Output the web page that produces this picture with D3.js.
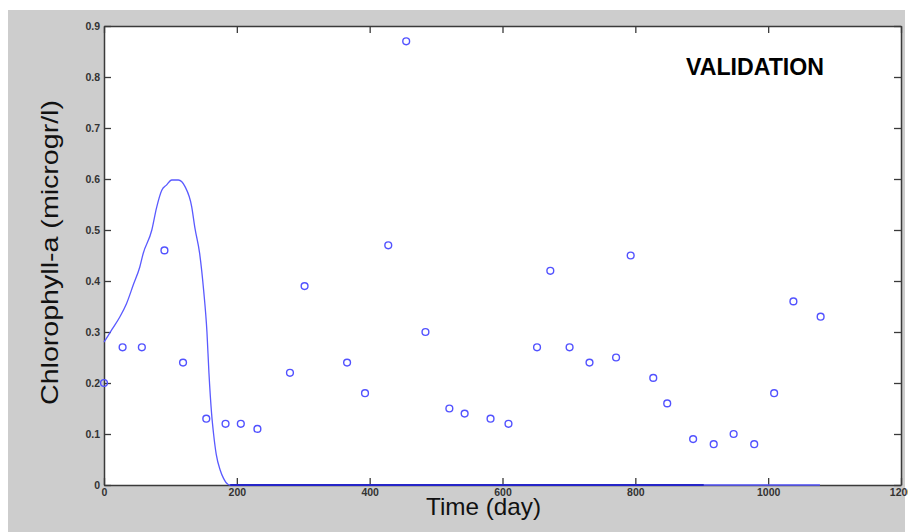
<!DOCTYPE html>
<html>
<head>
<meta charset="utf-8">
<script src="https://cdn.jsdelivr.net/npm/d3@7"></script>
<style>
  html, body { margin: 0; padding: 0; background: #ffffff; }
  svg { display: block; }
</style>
</head>
<body>
<svg id="chart" width="908" height="532"></svg>
<script>
// Observed chlorophyll-a samples (day, microgr/l)
const obsDays = [0, 28, 57, 91, 119, 154, 183, 206, 231, 280, 302, 366, 393, 428, 455, 484,
                 520, 543, 582, 609, 652, 672, 701, 731, 771, 793, 827, 848, 887, 918, 948, 979,
                 1009, 1038, 1079];
const obsValues = [0.20, 0.27, 0.27, 0.46, 0.24, 0.13, 0.12, 0.12, 0.11, 0.22, 0.39, 0.24, 0.18, 0.47, 0.87, 0.30,
                   0.15, 0.14, 0.13, 0.12, 0.27, 0.42, 0.27, 0.24, 0.25, 0.45, 0.21, 0.16, 0.09, 0.08, 0.10, 0.08,
                   0.18, 0.36, 0.33];

// Simulated chlorophyll-a curve
const modelDays = [0, 12, 24, 34, 44, 54, 59, 72, 79, 87, 94, 102, 112, 122, 132, 137, 144, 150, 155,
                   158, 162, 165, 169, 175, 180, 187, 190, 400, 600, 800, 1000, 1078];
const modelValues = [0.28, 0.305, 0.33, 0.356, 0.392, 0.428, 0.454, 0.50, 0.543, 0.578, 0.588, 0.598, 0.598,
                     0.585, 0.546, 0.503, 0.454, 0.382, 0.30, 0.22, 0.14, 0.10, 0.06, 0.029, 0.013, 0.001, 0,
                     0, 0, 0, 0, 0];

// Second simulated run, flat at zero over its span
const baseRunDays = [190, 903];
const baseRunValues = [0, 0];

const xTicks = [0, 200, 400, 600, 800, 1000, 1200];
const yTicks = [0, 0.1, 0.2, 0.3, 0.4, 0.5, 0.6, 0.7, 0.8, 0.9];

const chartTitle = "VALIDATION";
const xLabel = "Time (day)";
const yLabel = "Chlorophyll-a (microgr/l)";

const svg = d3.select("#chart");
const W = 908, H = 532;
const plot = { left: 104, top: 26, right: 901, bottom: 485 };

// figure background
svg.append("rect")
  .attr("x", 8).attr("y", 10)
  .attr("width", 897).attr("height", H - 10)
  .attr("fill", "#cdcdcd");

// axes area
svg.append("rect")
  .attr("x", plot.left).attr("y", plot.top)
  .attr("width", plot.right - plot.left).attr("height", plot.bottom - plot.top)
  .attr("fill", "#ffffff");

const x = d3.scaleLinear().domain([0, 1200]).range([plot.left, plot.right]);
const y = d3.scaleLinear().domain([0, 0.9]).range([plot.bottom, plot.top]);

const tickFmt = d => d === 0 ? "0" : d3.format(".1f")(d);

function styleAxis(g) {
  g.selectAll("path.domain").attr("stroke", "#3a3a3a").attr("stroke-width", 1.5);
  g.selectAll(".tick line").attr("stroke", "#3a3a3a").attr("stroke-width", 1.3);
  g.selectAll(".tick text")
    .attr("fill", "#333333")
    .attr("font-family", "'Liberation Sans', Arial, sans-serif")
    .attr("font-weight", "bold")
    .attr("font-size", "10.5px");
}

// bottom axis with labels
svg.append("g")
  .attr("transform", `translate(0,${plot.bottom})`)
  .call(d3.axisBottom(x).tickValues(xTicks).tickSizeInner(-7).tickSizeOuter(0).tickPadding(4).tickFormat(d3.format("d")))
  .call(styleAxis);

// top axis (ticks only)
svg.append("g")
  .attr("transform", `translate(0,${plot.top})`)
  .call(d3.axisTop(x).tickValues(xTicks).tickSizeInner(-7).tickSizeOuter(0).tickFormat(""))
  .call(styleAxis);

// left axis with labels
svg.append("g")
  .attr("transform", `translate(${plot.left},0)`)
  .call(d3.axisLeft(y).tickValues(yTicks).tickSizeInner(-7).tickSizeOuter(0).tickPadding(4).tickFormat(tickFmt))
  .call(styleAxis);

// right axis (ticks only)
svg.append("g")
  .attr("transform", `translate(${plot.right},0)`)
  .call(d3.axisRight(y).tickValues(yTicks).tickSizeInner(-7).tickSizeOuter(0).tickFormat(""))
  .call(styleAxis);

// simulated curve
const line = d3.line()
  .x(d => x(d[0]))
  .y(d => y(d[1]))
  .curve(d3.curveMonotoneX);

svg.append("path")
  .datum(modelDays.map((d, i) => [d, modelValues[i]]))
  .attr("d", line)
  .attr("fill", "none")
  .attr("stroke", "#5a5aff")
  .attr("stroke-width", 1.3);

svg.append("path")
  .datum(baseRunDays.map((d, i) => [d, baseRunValues[i]]))
  .attr("d", d3.line().x(d => x(d[0])).y(d => y(d[1])))
  .attr("fill", "none")
  .attr("stroke", "#2626c8")
  .attr("stroke-width", 2);

// observed samples
svg.append("g")
  .selectAll("circle")
  .data(obsDays.map((d, i) => [d, obsValues[i]]))
  .join("circle")
  .attr("cx", d => x(d[0]))
  .attr("cy", d => y(d[1]))
  .attr("r", 3.4)
  .attr("fill", "none")
  .attr("stroke", "#5252ff")
  .attr("stroke-width", 1.4);

// title inside the axes
svg.append("text")
  .attr("x", 686).attr("y", 75)
  .attr("font-family", "'Liberation Sans', Arial, sans-serif")
  .attr("font-weight", "bold")
  .attr("font-size", "24px")
  .attr("textLength", 138)
  .attr("lengthAdjust", "spacingAndGlyphs")
  .attr("fill", "#000000")
  .text(chartTitle);

// axis labels
svg.append("text")
  .attr("x", 426).attr("y", 515)
  .attr("font-family", "'Liberation Sans', Arial, sans-serif")
  .attr("font-size", "24px")
  .attr("textLength", 115)
  .attr("lengthAdjust", "spacingAndGlyphs")
  .attr("fill", "#111111")
  .text(xLabel);

svg.append("text")
  .attr("transform", "translate(58,405) rotate(-90)")
  .attr("font-family", "'Liberation Sans', Arial, sans-serif")
  .attr("font-size", "24px")
  .attr("textLength", 305)
  .attr("lengthAdjust", "spacingAndGlyphs")
  .attr("fill", "#111111")
  .text(yLabel);
</script>
</body>
</html>
